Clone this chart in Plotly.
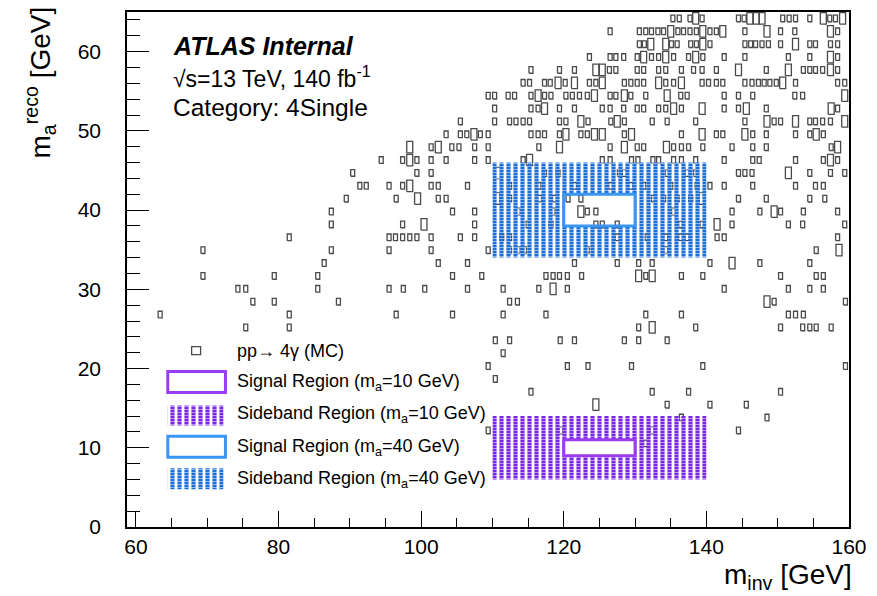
import plotly.graph_objects as go

# ---------------- data ----------------
# y bin centres of the rows of the 2D histogram (GeV)
mc_row_y = [64.19, 62.56, 60.94, 59.31, 57.69, 56.06, 54.44, 52.81, 51.19, 49.56,
            47.94, 46.31, 44.69, 43.06, 41.44, 39.81, 38.19, 36.56, 34.94, 33.31,
            31.69, 30.06, 28.44, 26.81, 25.19, 23.56, 21.94, 20.31, 18.69, 17.06,
            15.44, 13.81, 12.19, 10.56]

# x bin centres (GeV) of bins with low content, per row
mc_row_x_small = [
    [135.3, 136.2, 137.7, 139.4, 144.5, 145.3, 150.7, 151.6, 152.5, 154.5, 157.3, 158.1],
    [126.5, 130.6, 131.5, 132.3, 133.2, 134.0, 136.0, 136.8, 137.7, 138.6, 140.5, 141.4, 145.4, 150.4, 152.4, 158.4],
    [130.6, 131.3, 135.1, 135.9, 137.8, 138.6, 140.5, 145.4, 146.2, 146.9, 147.8, 148.7, 150.4, 154.5, 155.3, 157.4, 158.4],
    [123.6, 126.5, 127.3, 128.4, 130.3, 132.3, 133.3, 135.4, 137.5, 139.5, 142.5, 145.4, 151.5, 154.5, 158.4],
    [115.4, 119.4, 121.5, 126.4, 127.3, 130.3, 131.2, 133.3, 134.3, 136.5, 138.2, 139.4, 141.4, 148.4, 153.6, 154.5, 155.3, 156.3, 158.4],
    [114.3, 115.2, 117.3, 118.1, 120.2, 123.6, 124.5, 128.5, 129.4, 130.3, 131.2, 134.3, 135.4, 139.4, 140.3, 141.4, 142.3, 145.4, 146.4, 147.3, 148.1, 148.9, 149.8, 152.5, 158.4, 159.4],
    [109.4, 110.3, 112.2, 113.1, 115.4, 117.3, 118.2, 120.3, 121.2, 122.2, 123.3, 126.5, 127.3, 129.4, 131.5, 136.4, 137.3, 142.5, 144.5, 146.5, 152.4, 153.5],
    [110.3, 115.4, 116.4, 119.4, 121.5, 125.4, 126.5, 128.4, 130.3, 131.2, 133.3, 134.3, 136.5, 142.5, 144.5, 148.4, 158.4],
    [105.5, 110.3, 112.4, 113.3, 114.3, 115.2, 119.4, 120.3, 123.4, 126.6, 128.5, 132.4, 134.5, 138.5, 145.4, 149.5, 150.4, 154.5, 155.3, 156.3, 157.4],
    [103.5, 105.5, 106.4, 108.3, 109.4, 115.4, 116.4, 117.3, 119.4, 122.4, 123.3, 128.5, 136.5, 141.4, 142.3, 146.5, 148.4, 152.5, 154.5, 156.4],
    [101.4, 104.3, 105.3, 107.5, 109.4, 116.5, 126.5, 130.3, 131.2, 135.4, 136.5, 137.5, 139.5, 143.6, 146.5, 148.4, 157.5],
    [94.4, 97.4, 99.4, 101.4, 103.5, 107.5, 109.4, 114.3, 125.4, 126.5, 129.5, 130.4, 132.5, 133.3, 135.4, 136.5, 138.5, 142.5, 146.5, 147.4, 152.5, 156.4, 158.4],
    [90.4, 99.4, 101.4, 117.3, 119.2, 127.8, 128.5, 134.5, 137.3, 138.5, 144.5, 145.4, 146.4, 154.5, 157.4, 159.4],
    [91.4, 92.3, 95.5, 97.4, 101.4, 102.4, 106.5, 112.4, 116.5, 121.5, 126.6, 129.4, 131.2, 135.0, 138.7, 140.5, 142.5, 146.5, 152.5, 155.3, 156.4],
    [89.5, 96.5, 102.4, 103.5, 112.4, 116.6, 118.7, 120.6, 122.4, 132.6, 134.0, 135.9, 137.8, 144.5, 148.4, 154.5, 156.6],
    [87.4, 104.4, 107.5, 113.6, 118.5, 123.3, 124.5, 135.4, 143.6, 147.5, 150.4, 153.6, 158.4],
    [87.4, 97.4, 107.5, 115.0, 118.2, 124.5, 125.4, 127.5, 136.4, 139.4, 143.6, 151.5, 153.5, 159.4],
    [81.5, 95.5, 96.4, 97.4, 98.4, 99.4, 101.4, 105.5, 107.5, 111.3, 112.4, 127.5, 131.7, 134.3, 136.4, 137.3, 141.5, 142.5, 158.4],
    [69.4, 87.4, 95.5, 101.4, 109.4, 112.4, 113.6, 114.5, 123.3, 134.3, 155.4],
    [86.4, 102.4, 106.5, 121.5, 127.5, 130.5, 132.4, 140.5, 147.5, 154.5],
    [69.4, 79.4, 85.5, 104.4, 108.5, 117.5, 118.5, 119.4, 120.5, 122.5, 131.5, 136.5, 139.5, 150.4, 155.4, 156.4],
    [74.3, 75.4, 85.5, 95.5, 97.5, 100.5, 106.5, 111.5, 116.5, 120.5, 142.5, 151.5, 154.5, 156.4],
    [76.4, 79.4, 88.4, 112.4, 113.5, 149.5, 159.5],
    [63.4, 81.5, 96.5, 104.4, 111.5, 117.5, 131.5, 136.5, 151.5, 152.5, 153.6],
    [75.4, 81.5, 130.5, 138.5, 150.4, 153.5, 154.5, 155.4, 157.5],
    [110.4, 112.4, 119.5, 121.5, 128.5, 130.5, 134.5],
    [111.5],
    [109.4, 120.5, 123.4, 129.5, 139.5, 159.5],
    [110.4],
    [115.4, 132.4, 137.5, 150.4],
    [134.5, 140.5, 145.6],
    [136.5, 148.5],
    [109.4, 119.6, 132.4, 144.5],
    [131.5],
]

# x bin centres (GeV) of bins with higher content, per row
mc_row_x_big = [
    [138.5, 146.1, 147.0, 147.8, 156.4, 159.1],
    [135.0, 139.5, 142.3, 148.5, 157.4],
    [132.2, 134.3, 139.5, 152.5],
    [131.2, 134.3, 138.5, 157.4],
    [124.5, 125.4, 144.5, 151.5, 157.4],
    [119.2, 121.5, 125.4, 133.3, 136.5, 150.7],
    [116.4, 124.3, 128.5, 134.5, 159.4],
    [117.3, 135.4, 139.4, 145.6, 157.5],
    [122.4, 127.5, 148.5, 152.5, 159.4],
    [107.4, 120.3, 124.3, 125.4, 129.5, 139.4, 145.4, 155.4],
    [98.4, 102.4, 119.4, 128.5, 134.4, 158.4],
    [98.4, 115.2, 157.4],
    [110.8, 151.5],
    [98.4],
    [99.5, 110.6, 139.4],
    [122.4, 149.5],
    [100.4, 141.5],
    [],
    [158.6],
    [143.6],
    [130.5, 132.4],
    [118.5],
    [148.5],
    [],
    [132.4],
    [], [], [], [], [],
    [124.5],
    [], [], [],
]

# regions: [x_min, x_max, y_min, y_max] in GeV
sideband_10 = [110, 140, 6, 14]
signal_10 = [120, 130, 9, 11]
sideband_40 = [110, 140, 34, 46]
signal_40 = [120, 130, 38, 42]

x_ticks = [60, 80, 100, 120, 140, 160]
y_ticks = [0, 10, 20, 30, 40, 50, 60]

# ---------------- style ----------------
FONT = "Liberation Sans"
BOX_COLOR = "#4a4a4a"
SMALL_W, SMALL_H = 0.56, 0.84
BIG_W, BIG_H = 0.84, 1.45
PURPLE_HATCH = "#7a26e8"
PURPLE_LINE = "#9a3cf2"
BLUE_HATCH = "#1c6fd8"
BLUE_LINE = "#3a96f5"

fig = go.Figure()

# ---- boxes (ROOT "BOX" style) ----
bx, by = [], []
for yc, xs_s, xs_b in zip(mc_row_y, mc_row_x_small, mc_row_x_big):
    for xs, w, h in ((xs_s, SMALL_W, SMALL_H), (xs_b, BIG_W, BIG_H)):
        for xc in xs:
            x0, x1 = xc - w / 2, xc + w / 2
            y0, y1 = yc - h / 2, yc + h / 2
            bx += [x0, x1, x1, x0, x0, None]
            by += [y0, y0, y1, y1, y0, None]
fig.add_trace(go.Scatter(x=bx, y=by, mode="lines",
                         line=dict(color=BOX_COLOR, width=1.3),
                         hoverinfo="skip", showlegend=False))


def ring(outer, inner):
    """outer rectangle with a rectangular hole (slit polygon)."""
    ox0, ox1, oy0, oy1 = outer
    ix0, ix1, iy0, iy1 = inner
    xs = [ox0, ox1, ox1, ox0, ox0, ix0, ix0, ix1, ix1, ix0, ox0]
    ys = [oy0, oy0, oy1, oy1, oy0, iy0, iy1, iy1, iy0, iy0, oy0]
    return xs, ys


def hatch_traces(xs, ys, color, xaxis="x", yaxis="y"):
    """ROOT-like dotted column hatch: vertical bars broken by thin white dashes."""
    base = dict(x=xs, y=ys, mode="lines", fill="toself",
                line=dict(width=0, color="rgba(0,0,0,0)"),
                fillcolor="rgba(0,0,0,0)", hoverinfo="skip",
                showlegend=False, xaxis=xaxis, yaxis=yaxis)
    bars = go.Scatter(fillpattern=dict(shape="|", size=7, solidity=0.6,
                                       fgcolor=color, bgcolor="rgba(0,0,0,0)",
                                       fgopacity=1), **base)
    dots = go.Scatter(fillpattern=dict(shape="-", size=3, solidity=0.3,
                                       fgcolor="white", bgcolor="rgba(0,0,0,0)",
                                       fgopacity=0.55), **base)
    return [bars, dots]


hx, hy = ring(sideband_10, signal_10)
fig.add_traces(hatch_traces(hx, hy, PURPLE_HATCH))
hx, hy = ring(sideband_40, signal_40)
fig.add_traces(hatch_traces(hx, hy, BLUE_HATCH))

# signal region outlines
for reg, col in ((signal_10, PURPLE_LINE), (signal_40, BLUE_LINE)):
    fig.add_shape(type="rect", xref="x", yref="y",
                  x0=reg[0], x1=reg[1], y0=reg[2], y1=reg[3],
                  line=dict(color=col, width=3), layer="above")

# ---------------- legend (drawn by hand, ROOT style) ----------------
PL, PT, PW, PH = 127, 10, 726, 517  # plot area in pixels


def px(xp):
    return (xp - PL) / PW


def py(yp):
    return (PT + PH - yp) / PH


# MC box marker
fig.add_shape(type="rect", xref="paper", yref="paper",
              x0=px(192), x1=px(201), y0=py(354), y1=py(346),
              line=dict(color=BOX_COLOR, width=1.3))
# signal outlines
fig.add_shape(type="rect", xref="paper", yref="paper",
              x0=px(168), x1=px(226), y0=py(392), y1=py(371),
              line=dict(color=PURPLE_LINE, width=3))
fig.add_shape(type="rect", xref="paper", yref="paper",
              x0=px(168), x1=px(226), y0=py(457), y1=py(436),
              line=dict(color=BLUE_LINE, width=3))
# hatched legend boxes on an overlay axis spanning the plot area
for (y0p, y1p), col in (((425, 405), PURPLE_HATCH), ((489, 468), BLUE_HATCH)):
    xs = [px(168), px(224), px(224), px(168), px(168)]
    ys = [py(y0p), py(y0p), py(y1p), py(y1p), py(y0p)]
    fig.add_traces(hatch_traces(xs, ys, col, xaxis="x2", yaxis="y2"))

legend_items = [
    (350, "pp\u2192 4\u03b3 (MC)"),
    (382, "Signal Region (m<sub>a</sub>=10 GeV)"),
    (414, "Sideband Region (m<sub>a</sub>=10 GeV)"),
    (447, "Signal Region (m<sub>a</sub>=40 GeV)"),
    (479, "Sideband Region (m<sub>a</sub>=40 GeV)"),
]
for ypix, txt in legend_items:
    fig.add_annotation(xref="paper", yref="paper", x=px(236), y=py(ypix),
                       xanchor="left", yanchor="middle", showarrow=False,
                       text=txt, font=dict(family=FONT, size=18, color="black"))

# ---------------- labels ----------------
fig.add_annotation(xref="paper", yref="paper", x=px(171), y=py(44),
                   xanchor="left", yanchor="middle", showarrow=False,
                   text="<b><i>ATLAS Internal</i></b>",
                   font=dict(family=FONT, size=25, color="black"))
fig.add_annotation(xref="paper", yref="paper", x=px(171), y=py(75),
                   xanchor="left", yanchor="middle", showarrow=False,
                   text="\u221as=13 TeV, 140 fb<sup>-1</sup>",
                   font=dict(family=FONT, size=23, color="black"))
fig.add_annotation(xref="paper", yref="paper", x=px(171), y=py(106),
                   xanchor="left", yanchor="middle", showarrow=False,
                   text="Category: 4Single",
                   font=dict(family=FONT, size=24.5, color="black"))

# axis titles
fig.add_annotation(xref="paper", yref="paper", x=px(858), y=py(577),
                   xanchor="right", yanchor="middle", showarrow=False,
                   text="m<sub>inv</sub> [GeV]",
                   font=dict(family=FONT, size=28, color="black"))
fig.add_annotation(xref="paper", yref="paper", x=px(40), y=py(2),
                   xanchor="center", yanchor="top", showarrow=False,
                   textangle=-90,
                   text="m<sub>a</sub><sup>reco</sup> [GeV]",
                   font=dict(family=FONT, size=28, color="black"))

axis_common = dict(showgrid=False, zeroline=False, showline=True, mirror=True,
                   linecolor="black", linewidth=1.5, ticks="inside",
                   tickcolor="black", tickwidth=1.3,
                   tickfont=dict(family=FONT, size=21, color="black"))

fig.update_layout(
    width=877, height=596,
    margin=dict(l=PL, r=877 - PL - PW, t=PT, b=596 - PT - PH),
    paper_bgcolor="white", plot_bgcolor="white",
    showlegend=False,
    xaxis=dict(range=[58.75, 160], tickvals=x_ticks, ticklen=16,
               ticklabelstandoff=0,
               minor=dict(dtick=5, tick0=60, ticklen=9, ticks="inside",
                          tickcolor="black", tickwidth=1.3),
               **axis_common),
    yaxis=dict(range=[0, 65], tickvals=y_ticks, ticklen=22,
               ticklabelstandoff=20,
               minor=dict(dtick=2, tick0=0, ticklen=13, ticks="inside",
                          tickcolor="black", tickwidth=1.3),
               **axis_common),
    xaxis2=dict(range=[0, 1], overlaying="x", visible=False, fixedrange=True),
    yaxis2=dict(range=[0, 1], overlaying="y", visible=False, fixedrange=True),
)

fig.write_html("out.html",
               config={"displayModeBar": False},
               post_script="document.body.style.margin='0px';"
                           "document.body.style.overflow='hidden';")
